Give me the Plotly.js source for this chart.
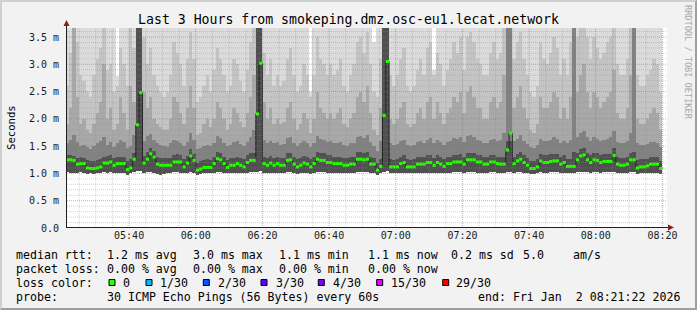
<!DOCTYPE html>
<html><head><meta charset="utf-8">
<script src="https://cdn.plot.ly/plotly-3.0.1.min.js"></script>
<style>
html,body{margin:0;padding:0;background:#f2f2f2;overflow:hidden;}
#frame{position:absolute;left:0;top:0;width:697px;height:310px;box-sizing:border-box;border-top:2px solid #cfcfcf;border-left:2px solid #cfcfcf;border-bottom:2px solid #9e9e9e;border-right:2px solid #9e9e9e;}
#chart{position:absolute;left:0;top:0;width:697px;height:310px;}
</style></head><body>
<div id="frame"></div><div id="chart"></div>
<script>
// ---------------- DATA ----------------
const titleText = 'Last 3 Hours from smokeping.dmz.osc-eu1.lecat.network';
const firstBinStart = [2026, 0, 2, 5, 21, 0];   // one-minute bins
const xStart = '2026-01-02 05:21:22';
const xEnd = '2026-01-02 08:21:22';
const xTickText = ['05:40','06:00','06:20','06:40','07:00','07:20','07:40','08:00','08:20'];
const yTickVals = [0, 0.5, 1.0, 1.5, 2.0, 2.5, 3.0, 3.5];
const yTickText = ['0.0','0.5 m','1.0 m','1.5 m','2.0 m','2.5 m','3.0 m','3.5 m'];

// median RTT per minute (ms)
const median = [
1.25,1.25,1.24,1.17,1.18,1.18,1.10,1.09,1.09,1.10,
1.12,1.19,1.19,1.21,1.15,1.18,1.18,1.18,1.07,1.10,
1.26,1.89,2.48,1.19,1.26,1.36,1.30,1.17,1.15,1.15,
1.15,1.15,1.21,1.21,1.21,1.12,1.19,1.32,1.24,1.06,
1.08,1.11,1.11,1.11,1.18,1.27,1.25,1.18,1.11,1.15,
1.15,1.18,1.15,1.12,1.20,1.24,1.24,2.09,3.02,1.18,
1.15,1.19,1.15,1.18,1.15,1.15,1.24,1.25,1.17,1.12,
1.15,1.19,1.17,1.12,1.18,1.26,1.24,1.24,1.20,1.20,
1.18,1.18,1.18,1.15,1.15,1.17,1.17,1.26,1.26,1.25,
1.26,1.17,1.17,1.06,1.13,2.06,3.05,1.12,1.12,1.12,
1.18,1.20,1.12,1.12,1.12,1.17,1.17,1.17,1.20,1.20,
1.15,1.20,1.17,1.13,1.18,1.18,1.21,1.21,1.21,1.17,
1.25,1.25,1.25,1.21,1.21,1.17,1.17,1.21,1.21,1.18,
1.17,1.17,1.43,1.74,1.18,1.23,1.26,1.20,1.15,1.09,
1.09,1.12,1.23,1.20,1.20,1.22,1.23,1.23,1.17,1.20,
1.13,1.13,1.13,1.25,1.32,1.34,1.25,1.20,1.25,1.24,
1.20,1.22,1.22,1.22,1.33,1.17,1.15,1.15,1.17,1.25,
1.25,1.10,1.12,1.12,1.14,1.17,1.17,1.17,1.09];

// smoke: lowest ping per minute
const smokeLow = [
1.02,1.01,1.00,1.01,1.02,1.00,0.99,1.00,0.99,1.00,
1.01,1.02,1.01,1.02,1.00,1.01,1.01,1.00,0.98,1.00,
1.03,1.04,1.04,1.01,1.02,1.02,1.00,0.99,0.98,0.99,
1.00,1.01,1.02,1.02,1.01,1.00,1.01,1.02,1.00,0.98,
0.99,1.00,1.00,1.00,1.01,1.02,1.02,1.01,1.00,1.00,
1.01,1.01,1.00,1.00,1.01,1.02,1.02,1.03,1.04,1.01,
1.00,1.01,1.00,1.01,1.00,1.00,1.02,1.02,1.01,0.99,
1.00,1.01,1.01,0.99,1.01,1.02,1.02,1.02,1.01,1.01,
1.01,1.01,1.01,1.00,1.00,1.01,1.01,1.02,1.02,1.02,
1.02,1.01,1.00,0.98,1.00,1.03,1.04,1.00,1.00,1.00,
1.01,1.01,1.00,1.00,1.00,1.01,1.01,1.01,1.01,1.01,
1.00,1.01,1.01,1.00,1.01,1.01,1.02,1.02,1.02,1.01,
1.02,1.02,1.02,1.01,1.01,1.01,1.01,1.02,1.02,1.01,
1.01,1.01,1.03,1.03,1.01,1.02,1.02,1.01,1.00,0.99,
0.99,1.00,1.02,1.01,1.01,1.02,1.02,1.02,1.01,1.01,
1.00,1.00,1.00,1.02,1.02,1.03,1.02,1.01,1.02,1.02,
1.01,1.02,1.02,1.02,1.02,1.01,1.00,1.00,1.01,1.02,
1.02,0.99,1.00,1.00,1.00,1.01,1.01,1.01,0.99];

// smoke: top of the dense core around the median
const smokeQ1 = [
1.34,1.33,1.32,1.28,1.30,1.29,1.24,1.22,1.23,1.25,
1.27,1.31,1.32,1.33,1.28,1.30,1.31,1.30,1.22,1.26,
1.38,3.90,3.90,1.32,1.40,1.46,1.42,1.30,1.28,1.29,
1.28,1.29,1.34,1.35,1.33,1.26,1.32,1.44,1.36,1.20,
1.22,1.25,1.26,1.25,1.31,1.40,1.38,1.31,1.25,1.28,
1.29,1.31,1.28,1.26,1.33,1.37,1.38,3.90,3.90,1.31,
1.28,1.32,1.29,1.31,1.28,1.29,1.37,1.38,1.30,1.26,
1.29,1.32,1.30,1.26,1.31,1.39,1.37,1.37,1.33,1.33,
1.31,1.31,1.31,1.28,1.28,1.30,1.31,1.39,1.39,1.38,
1.39,1.30,1.29,1.20,1.27,3.90,3.90,1.26,1.25,1.26,
1.31,1.33,1.26,1.25,1.26,1.30,1.31,1.30,1.33,1.33,
1.28,1.33,1.30,1.27,1.31,1.31,1.34,1.34,1.35,1.30,
1.38,1.38,1.37,1.34,1.34,1.30,1.30,1.34,1.34,1.31,
1.30,1.31,1.60,1.60,1.31,1.36,1.39,1.33,1.28,1.23,
1.22,1.26,1.36,1.33,1.33,1.35,1.36,1.36,1.30,1.33,
1.27,1.27,1.40,1.38,1.45,1.47,1.38,1.33,1.38,1.37,
1.33,1.35,1.35,1.35,1.46,1.30,1.28,1.28,1.30,1.38,
1.40,1.24,1.26,1.26,1.27,1.30,1.30,1.30,1.22];

const smokeQ2 = [
1.55,1.62,1.70,1.58,1.50,1.52,1.48,1.45,1.50,1.55,
1.60,1.66,1.52,1.58,1.48,1.55,1.62,1.58,1.46,1.50,
1.70,3.90,3.90,1.60,1.68,1.72,1.62,1.55,1.52,1.50,
1.48,1.56,1.62,1.60,1.55,1.50,1.58,1.75,1.62,1.44,
1.46,1.50,1.52,1.50,1.56,1.68,1.65,1.55,1.50,1.52,
1.58,1.60,1.54,1.50,1.58,1.66,1.80,3.90,3.90,1.62,
1.55,1.60,1.55,1.58,1.52,1.54,1.65,1.66,1.56,1.50,
1.55,1.60,1.56,1.48,1.56,1.68,1.64,1.62,1.58,1.60,
1.55,1.56,1.58,1.52,1.50,1.55,1.56,1.66,1.68,1.65,
1.70,1.58,1.50,1.42,1.60,3.90,3.90,1.55,1.52,1.54,
1.60,1.62,1.52,1.50,1.52,1.58,1.60,1.56,1.62,1.65,
1.55,1.62,1.58,1.52,1.58,1.60,1.65,1.64,1.66,1.58,
1.68,1.70,1.66,1.62,1.60,1.56,1.55,1.62,1.64,1.60,
1.62,1.75,3.90,3.90,1.60,1.64,1.70,1.60,1.54,1.48,
1.46,1.52,1.64,1.60,1.60,1.62,1.66,1.64,1.56,1.60,
1.55,1.62,3.90,1.66,1.75,1.78,1.66,1.60,1.66,1.64,
1.60,1.62,1.64,1.66,1.78,1.58,1.55,1.56,1.60,1.75,
3.90,1.55,1.52,1.52,1.54,1.58,1.58,1.56,1.48];

const smokeQ3 = [
1.90,2.20,3.90,2.40,1.90,2.00,1.80,1.75,1.90,2.10,
2.30,3.00,2.00,2.20,1.80,1.90,2.40,2.10,1.80,2.60,
2.30,3.90,3.90,2.50,2.20,2.40,2.00,1.90,1.85,1.80,
1.80,2.00,2.40,2.30,2.10,1.90,2.20,2.60,2.20,1.70,
1.75,1.90,2.00,1.85,2.00,2.30,2.20,2.00,1.80,1.90,
2.20,2.10,1.95,1.85,2.10,2.40,2.80,3.90,3.90,2.30,
2.00,2.20,1.90,2.00,1.90,1.95,2.20,2.30,2.00,1.80,
1.90,2.10,2.00,1.75,2.00,2.50,2.20,2.10,2.00,2.10,
2.00,2.10,2.20,1.90,1.85,2.00,2.10,2.40,2.50,2.30,
2.60,2.10,1.80,1.70,2.20,3.90,3.90,2.00,1.90,2.00,
2.20,2.30,1.90,1.85,1.90,2.10,2.20,2.00,2.30,2.40,
2.00,2.30,2.10,1.90,2.10,2.20,2.40,2.30,2.50,2.10,
2.50,2.60,2.40,2.20,2.20,2.00,2.00,2.30,2.40,2.20,
2.30,2.80,3.90,3.90,2.20,2.40,2.60,2.20,2.00,1.80,
1.75,1.90,2.40,2.20,2.20,2.30,2.50,2.40,2.00,2.20,
2.00,2.40,3.90,2.50,2.80,3.00,2.50,2.20,2.50,2.40,
2.20,2.30,2.40,2.50,2.90,2.10,2.00,2.00,2.20,2.80,
3.90,2.00,1.90,1.90,2.00,2.10,2.20,2.10,1.80];

const smokeQ4 = [
2.60,3.20,3.90,3.40,2.80,2.70,2.50,2.40,2.80,3.10,
3.30,3.90,2.90,3.00,2.50,2.60,3.30,3.00,2.60,3.90,
3.30,3.90,3.90,3.50,3.00,3.30,2.80,2.60,2.50,2.40,
2.50,2.80,3.40,3.20,3.00,2.60,3.10,3.60,3.10,2.30,
2.40,2.60,2.80,2.50,2.90,3.30,3.10,2.80,2.50,2.60,
3.10,3.00,2.70,2.50,2.90,3.40,3.90,3.90,3.90,3.20,
2.80,3.10,2.60,2.80,2.60,2.70,3.10,3.30,2.80,2.50,
2.60,3.00,2.80,2.40,2.80,3.50,3.10,3.00,2.80,3.00,
2.80,2.90,3.10,2.60,2.50,2.80,3.00,3.40,3.50,3.20,
3.60,3.00,2.50,2.40,3.10,3.90,3.90,2.80,2.60,2.80,
3.10,3.30,2.60,2.50,2.60,2.90,3.10,2.80,3.30,3.40,
2.80,3.20,3.00,2.60,2.90,3.10,3.40,3.20,3.50,2.90,
3.50,3.60,3.40,3.10,3.00,2.80,2.80,3.20,3.40,3.10,
3.20,3.80,3.90,3.90,3.10,3.40,3.60,3.10,2.80,2.50,
2.40,2.60,3.40,3.10,3.00,3.20,3.50,3.30,2.80,3.10,
2.80,3.40,3.90,3.50,3.80,3.90,3.50,3.10,3.50,3.30,
3.10,3.20,3.40,3.50,3.90,3.00,2.80,2.80,3.10,3.80,
3.90,2.80,2.60,2.60,2.80,2.90,3.10,3.00,2.50];

// smoke: highest ping per minute
const smokeHigh = [
4.0,4.0,4.0,4.0,4.0,4.0,4.0,4.0,4.0,4.0,
4.0,4.0,4.0,4.0,4.0,2.78,4.0,4.0,4.0,4.0,
4.0,4.0,4.0,4.0,4.0,4.0,4.0,4.0,4.0,4.0,
4.0,4.0,4.0,4.0,4.0,4.0,4.0,4.0,4.0,4.0,
4.0,4.0,4.0,4.0,4.0,4.0,4.0,4.0,4.0,4.0,
4.0,4.0,4.0,4.0,4.0,4.0,4.0,4.0,4.0,4.0,
4.0,4.0,4.0,4.0,4.0,4.0,4.0,4.0,4.0,4.0,
4.0,4.0,4.0,2.5,4.0,4.0,4.0,4.0,4.0,4.0,
4.0,4.0,4.0,4.0,4.0,4.0,4.0,4.0,4.0,4.0,
4.0,4.0,3.4,4.0,4.0,4.0,4.0,4.0,4.0,4.0,
4.0,4.0,4.0,4.0,4.0,4.0,4.0,4.0,4.0,4.0,
2.9,4.0,4.0,4.0,4.0,4.0,4.0,4.0,4.0,4.0,
4.0,4.0,4.0,4.0,4.0,4.0,4.0,4.0,4.0,4.0,
4.0,4.0,4.0,4.0,4.0,4.0,4.0,4.0,4.0,4.0,
4.0,4.0,4.0,4.0,4.0,4.0,4.0,4.0,4.0,4.0,
4.0,4.0,4.0,4.0,4.0,4.0,4.0,4.0,4.0,4.0,
4.0,4.0,4.0,4.0,4.0,4.0,4.0,4.0,4.0,4.0,
4.0,4.0,4.0,4.0,4.0,4.0,4.0,4.0,4.0];

const statsRow1 = ['median rtt:','1.2 ms avg','3.0 ms max','1.1 ms min','1.1 ms now','0.2 ms sd','5.0','am/s'];
const statsRow2 = ['packet loss:','0.00 % avg','0.00 % max','0.00 % min','0.00 % now'];
const lossTitle = 'loss color:';
const lossLabels = ['0','1/30','2/30','3/30','4/30','15/30','29/30'];
const lossColors = ['#26ff00','#00b8ff','#0059ff','#5e00ff','#7e00ff','#dd00ff','#ff0000'];
const probeRow = ['probe:','30 ICMP Echo Pings (56 Bytes) every 60s','end: Fri Jan\u00a0 2 08:21:22 2026'];
const watermark = 'RRDTOOL / TOBI OETIKER';

// ---------------- BUILD ----------------
const MONO = 'DejaVu Sans Mono';
const t0 = Date.UTC.apply(null, firstBinStart);
const MIN = 60000;
function fmt(ms){const d=new Date(ms);const p=n=>String(n).padStart(2,'0');
  return d.getUTCFullYear()+'-'+p(d.getUTCMonth()+1)+'-'+p(d.getUTCDate())+' '+p(d.getUTCHours())+':'+p(d.getUTCMinutes())+':'+p(d.getUTCSeconds());}
const n = median.length;
const centers = [], starts = [], ends = [];
for (let i=0;i<n;i++){ centers.push(fmt(t0+i*MIN+MIN/2)); starts.push(fmt(t0+i*MIN)); ends.push(fmt(t0+(i+1)*MIN)); }

const layers = [
  [smokeLow, smokeQ1, '#505050'],
  [smokeQ1, smokeQ2, '#818181'],
  [smokeQ2, smokeQ3, '#a8a8a8'],
  [smokeQ3, smokeQ4, '#c4c4c4'],
  [smokeQ4, smokeHigh, '#dbdbdb']
];
const traces = layers.map(([lo, hi, col]) => ({
  type:'bar', x:centers, base:lo, y:hi.map((v,i)=>Math.max(0, v-lo[i])), width:MIN,
  marker:{color:col, line:{width:0}}, hoverinfo:'skip'
}));
// thin dark median step line
traces.push({type:'scatter', mode:'lines', x:starts.concat([ends[n-1]]), y:median.concat([median[n-1]]),
  line:{shape:'hv', color:'#202020', width:1}, hoverinfo:'skip'});
// green loss-colored median segments
const gx=[], gy=[];
for (let i=0;i<n;i++){ gx.push(starts[i], ends[i], null); gy.push(median[i], median[i], null); }
traces.push({type:'scatter', mode:'lines', x:gx, y:gy, connectgaps:false,
  line:{color:lossColors[0], width:3}, hoverinfo:'skip'});

// pixel helpers (plot area 67..667 x 28..228)
const PL=67, PW=600, PB=228, PH=200, YMAX=3.665;
const px = x => (x-PL)/PW;
const py = y => (PB-y)/PH;

const shapes = [];
const tickMs = xTickText.map(s => Date.UTC(2026,0,2,+s.slice(0,2),+s.slice(3,5)));
const xTickVals = tickMs.map(fmt);
const xe = Date.UTC(2026,0,2,8,21,22);
const minorCol = 'rgba(143,143,143,0.38)';
const majorCol = 'rgba(222,79,79,0.55)';
// minor vertical grid every 5 min
for (let t = Date.UTC(2026,0,2,5,25); t < xe; t += 5*MIN) {
  if (tickMs.includes(t)) continue;
  shapes.push({type:'line', layer:'above', xref:'x', yref:'paper', x0:fmt(t), x1:fmt(t), y0:0, y1:1,
    line:{color:minorCol, width:1, dash:'1px,1px'}});
}
// minor horizontal grid every 0.1
for (let k=1;k<=36;k++){ if (k%5===0) continue; const v=k/10;
  shapes.push({type:'line', layer:'above', xref:'paper', yref:'y', x0:0, x1:1, y0:v, y1:v,
    line:{color:minorCol, width:1, dash:'1px,1px'}});
}
// major grid
xTickVals.forEach(t => shapes.push({type:'line', layer:'above', xref:'x', yref:'paper', x0:t, x1:t, y0:0, y1:1,
  line:{color:majorCol, width:1, dash:'1px,1px'}}));
yTickVals.slice(1).forEach(v => shapes.push({type:'line', layer:'above', xref:'paper', yref:'y', x0:0, x1:1, y0:v, y1:v,
  line:{color:majorCol, width:1, dash:'1px,1px'}}));
// axis lines and arrows
shapes.push({type:'line', layer:'above', xref:'paper', yref:'paper', x0:px(66.5), x1:px(66.5), y0:py(228), y1:py(24),
  line:{color:'#1f1f1f', width:1}});
shapes.push({type:'line', layer:'above', xref:'paper', yref:'paper', x0:px(67), x1:px(669), y0:py(227.5), y1:py(227.5),
  line:{color:'#1f1f1f', width:1}});
shapes.push({type:'path', layer:'above', xref:'paper', yref:'paper',
  path:`M ${px(63.5)} ${py(26)} L ${px(69.5)} ${py(26)} L ${px(66.5)} ${py(20)} Z`,
  fillcolor:'#801f1f', line:{width:0}});
shapes.push({type:'path', layer:'above', xref:'paper', yref:'paper',
  path:`M ${px(668)} ${py(224.5)} L ${px(668)} ${py(230.5)} L ${px(674)} ${py(227.5)} Z`,
  fillcolor:'#801f1f', line:{width:0}});

// legend text
const annotations = [];
function txt(x, y, s){ annotations.push({xref:'paper', yref:'paper', x:px(x-1.5), y:py(y),
  xanchor:'left', yanchor:'middle', showarrow:false, text:s, borderpad:0,
  font:{family:MONO, size:11.6, color:'#000'}}); }
const row1X = [16,107.3,193.3,279.3,368.3,451.7,523.3,573.3];
statsRow1.forEach((s,i)=>txt(row1X[i], 254.5, s));
const row2X = [16,107.3,193.3,279.3,368.3];
statsRow2.forEach((s,i)=>txt(row2X[i], 268.5, s));
txt(16, 282.5, lossTitle);
const sqX = [109,146,203.3,261,318.3,376.7,442.7];
const lbX = [123.3,160.7,218.3,276,333.3,391.7,456.7];
lossLabels.forEach((s,i)=>{
  txt(lbX[i], 282.5, s);
  shapes.push({type:'rect', layer:'above', xref:'paper', yref:'paper', x0:px(sqX[i]), x1:px(sqX[i]+6), y0:py(279.5), y1:py(285.5),
    fillcolor:lossColors[i], line:{color:'#000', width:1}});
});
txt(16, 296.5, probeRow[0]);
txt(107.3, 296.5, probeRow[1]);
txt(478.3, 296.5, probeRow[2]);
// y title
annotations.push({xref:'paper', yref:'paper', x:px(11), y:0.5, xanchor:'center', yanchor:'middle', showarrow:false,
  text:'Seconds', textangle:-90, font:{family:MONO, size:10.6, color:'#000'}});
// watermark
annotations.push({xref:'paper', yref:'paper', x:px(688), y:py(62), xanchor:'center', yanchor:'middle', showarrow:false,
  text:watermark, textangle:90, font:{family:MONO, size:8.6, color:'#a9a9a9'}});

const layout = {
  width:697, height:310,
  margin:{l:PL, r:697-PL-PW, t:PB-PH, b:310-PB, pad:0},
  paper_bgcolor:'rgba(0,0,0,0)', plot_bgcolor:'#ffffff',
  showlegend:false, barmode:'overlay', bargap:0,
  font:{family:MONO, size:10, color:'#000'},
  title:{text:titleText, x:0.5, xref:'container', xanchor:'center', y:1-19.5/310, yref:'container', yanchor:'middle',
    font:{family:MONO, size:13.2, color:'#000'}},
  xaxis:{type:'date', range:[xStart, xEnd], tickmode:'array', tickvals:xTickVals, ticktext:xTickText,
    showgrid:false, zeroline:false, showline:false, ticks:'', tickfont:{family:MONO, size:10, color:'#1a1a1a'}, fixedrange:true},
  yaxis:{range:[0, YMAX], tickmode:'array', tickvals:yTickVals, ticktext:yTickText, showgrid:false, zeroline:false,
    showline:false, ticks:'', ticklabelstandoff:7, tickfont:{family:MONO, size:10, color:'#1a1a1a'}, fixedrange:true},
  shapes:shapes, annotations:annotations
};
Plotly.newPlot('chart', traces, layout, {displayModeBar:false, staticPlot:true});
</script>
</body></html>
